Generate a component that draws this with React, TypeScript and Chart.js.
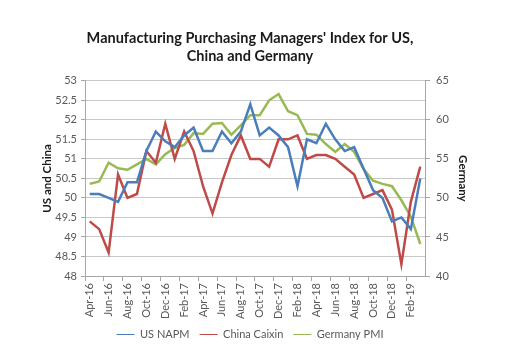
import React, { useEffect, useRef } from "react";
import { Chart, registerables } from "chart.js";

Chart.register(...registerables);

const months = [
  "Apr-16", "May-16", "Jun-16", "Jul-16", "Aug-16", "Sep-16", "Oct-16", "Nov-16", "Dec-16",
  "Jan-17", "Feb-17", "Mar-17", "Apr-17", "May-17", "Jun-17", "Jul-17", "Aug-17", "Sep-17",
  "Oct-17", "Nov-17", "Dec-17", "Jan-18", "Feb-18", "Mar-18", "Apr-18", "May-18", "Jun-18",
  "Jul-18", "Aug-18", "Sep-18", "Oct-18", "Nov-18", "Dec-18", "Jan-19", "Feb-19", "Mar-19",
];

const usNapm = [
  50.1, 50.1, 50.0, 49.9, 50.4, 50.4, 51.2, 51.7, 51.45,
  51.3, 51.6, 51.8, 51.2, 51.2, 51.7, 51.4, 51.7, 52.4,
  51.6, 51.8, 51.6, 51.3, 50.3, 51.5, 51.4, 51.9, 51.5,
  51.2, 51.3, 50.75, 50.2, 50.0, 49.4, 49.5, 49.2, 50.5,
];

const chinaCaixin = [
  49.4, 49.2, 48.6, 50.6, 50.0, 50.1, 51.2, 50.9, 51.9,
  51.0, 51.7, 51.2, 50.3, 49.6, 50.4, 51.1, 51.6, 51.0,
  51.0, 50.8, 51.5, 51.5, 51.6, 51.0, 51.1, 51.1, 51.0,
  50.8, 50.6, 50.0, 50.1, 50.2, 49.7, 48.3, 49.9, 50.8,
];

const germanyPmi = [
  51.8, 52.1, 54.5, 53.8, 53.6, 54.3, 55.0, 54.3, 55.6,
  56.4, 56.8, 58.3, 58.2, 59.5, 59.6, 58.1, 59.3, 60.6,
  60.6, 62.5, 63.3, 61.1, 60.6, 58.2, 58.1, 56.9, 55.9,
  56.9, 55.9, 53.7, 52.2, 51.8, 51.5, 49.7, 47.6, 44.1,
];

const seriesNames = ["US NAPM", "China Caixin", "Germany PMI"];
const titleLines = ["Manufacturing Purchasing Managers' Index for US,", "China and Germany"];
const leftAxisTitle = "US and China";
const rightAxisTitle = "Germany";

const FONT = "Lato, 'Open Sans', sans-serif";
const AXIS = "#a6a6a6";
const GRID = "#c8c8c8";
const TEXT = "#595959";

export default function App() {
  const ref = useRef<HTMLCanvasElement | null>(null);

  useEffect(() => {
    document.body.style.margin = "0";
    const canvas = ref.current;
    if (!canvas) return;
    const chart = new Chart(canvas, {
      type: "line",
      data: {
        labels: months,
        datasets: [
          { label: seriesNames[0], data: usNapm, borderColor: "#4a7ebb", backgroundColor: "#4a7ebb", yAxisID: "y" },
          { label: seriesNames[1], data: chinaCaixin, borderColor: "#be4b48", backgroundColor: "#be4b48", yAxisID: "y" },
          { label: seriesNames[2], data: germanyPmi, borderColor: "#98b954", backgroundColor: "#98b954", yAxisID: "y1" },
        ],
      },
      options: {
        responsive: false,
        animation: false,
        devicePixelRatio: 1,
        elements: {
          line: { borderWidth: 2.5, tension: 0 },
          point: { radius: 0, hoverRadius: 0 },
        },
        layout: { padding: { left: 30, right: 42, top: 0, bottom: 10 } },
        plugins: {
          tooltip: { enabled: false },
          title: {
            display: true,
            text: titleLines,
            color: "#1a1a1a",
            font: { family: FONT, size: 14.5, weight: "bold", lineHeight: 1.2 },
            padding: { top: 30, bottom: 16 },
          },
          legend: {
            position: "bottom",
            labels: {
              usePointStyle: true,
              pointStyle: "line",
              pointStyleWidth: 18,
              color: TEXT,
              padding: 10,
              font: { family: FONT, size: 11 },
            },
          },
        },
        scales: {
          x: {
            type: "category",
            offset: true,
            grid: {
              display: true,
              offset: true,
              drawOnChartArea: false,
              drawTicks: true,
              tickLength: 5,
              color: (ctx: any) => (ctx.index % 2 === 0 ? AXIS : "rgba(0,0,0,0)"),
            },
            border: { display: true, color: AXIS },
            ticks: {
              autoSkip: false,
              maxRotation: 90,
              minRotation: 90,
              padding: 2,
              color: TEXT,
              font: { family: FONT, size: 11 },
              callback: (_v: any, i: number) => (i % 2 === 0 ? months[i] : ""),
            },
            afterFit: (s: any) => {
              s.height = 43;
            },
          },
          y: {
            position: "left",
            min: 48,
            max: 53,
            ticks: {
              stepSize: 0.5,
              color: TEXT,
              padding: 4,
              font: { family: FONT, size: 11 },
              callback: (v: any) => String(v),
            },
            grid: { color: GRID, drawTicks: true, tickLength: 4, tickColor: AXIS },
            border: { display: true, color: AXIS },
            title: {
              display: true,
              text: leftAxisTitle,
              color: "#1a1a1a",
              font: { family: FONT, size: 11.5, weight: "bold" },
              padding: { top: 10, bottom: 0 },
            },
            afterFit: (s: any) => {
              s.width = 55;
            },
          },
          y1: {
            position: "right",
            min: 40,
            max: 65,
            ticks: {
              stepSize: 5,
              color: TEXT,
              padding: 6,
              font: { family: FONT, size: 11 },
              callback: (v: any) => String(v),
            },
            grid: { drawOnChartArea: false, drawTicks: true, tickLength: 5, color: AXIS },
            border: { display: true, color: AXIS },
            title: {
              display: true,
              text: rightAxisTitle,
              color: "#1a1a1a",
              font: { family: FONT, size: 11.5, weight: "bold" },
              padding: { top: 0, bottom: 0 },
            },
            afterFit: (s: any) => {
              s.width = 45;
            },
          },
        },
      },
    });
    return () => chart.destroy();
  }, []);

  return (
    <div style={{ position: "relative", width: 512, height: 360, background: "#fff" }}>
      <canvas ref={ref} width={512} height={360} />
    </div>
  );
}
